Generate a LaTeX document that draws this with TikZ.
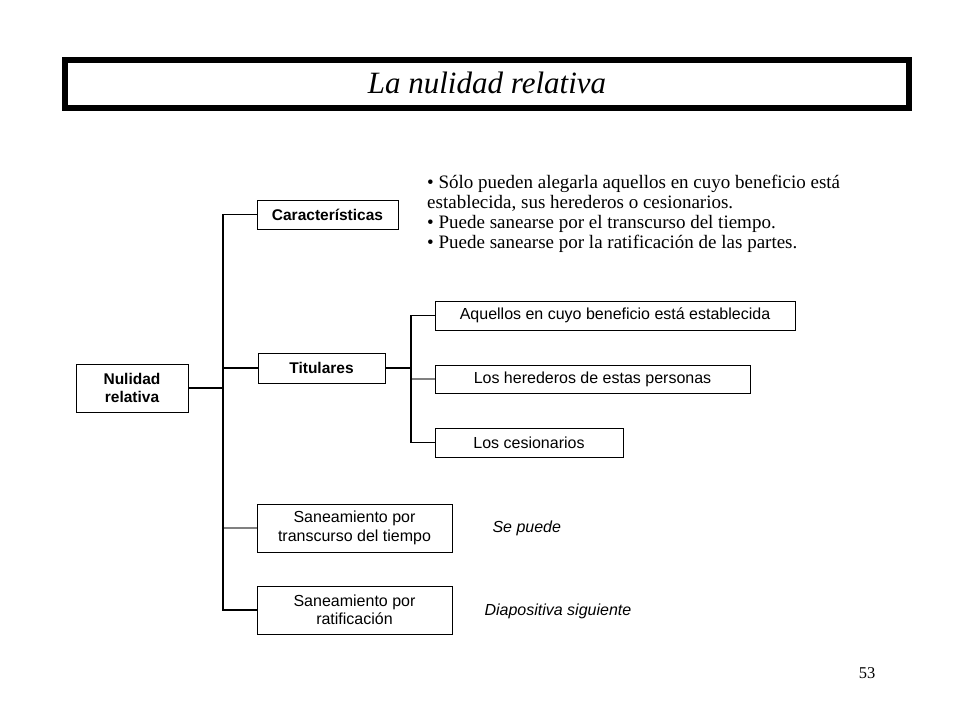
\documentclass[tikz,border=0pt]{standalone}
\usepackage{fontspec}
\setmainfont{Liberation Serif}
\setsansfont{Liberation Sans}
\usepackage{tikz}
\usetikzlibrary{positioning}

\tikzset{
  caja/.style = {draw, line width=0.9pt, rectangle, inner sep=2pt, align=center,
                 font=\sffamily\fontsize{16}{18.5}\selectfont},
  cajab/.style = {caja, font=\sffamily\bfseries\fontsize{15.5}{18.5}\selectfont},
  rama/.style = {line width=1.2pt},
  nota/.style = {font=\sffamily\itshape\fontsize{16}{18}\selectfont}
}

\begin{document}
\begin{tikzpicture}[x=1pt, y=-1pt]
\useasboundingbox (0,0) rectangle (960,720);

% title
\draw[line width=6.5pt] (65,60) rectangle (909,108);
\node[anchor=base] (titulo) at (487,93) {\itshape\fontsize{31}{33}\selectfont La nulidad relativa};

% main boxes
\node[cajab, minimum width=112pt, minimum height=48pt] (nul) at (132,388) {Nulidad\\relativa};
\node[cajab, minimum width=141pt, minimum height=29pt] (car) at (327.5,214.5) {Características};
\node[cajab, minimum width=127pt, minimum height=30pt] (tit) at (321.5,368) {Titulares};
\node[caja, minimum width=195pt, minimum height=48pt] (tiempo) at (354.5,528) {Saneamiento por\\transcurso del tiempo};
\node[caja, minimum width=195pt, minimum height=48pt] (ratif) at (354.5,610) {Saneamiento por\\ratificación};

% titulares
\node[caja, minimum width=360pt, minimum height=29pt] (aque) at (615,315.5) {Aquellos en cuyo beneficio está establecida};
\node[caja, minimum width=315pt, minimum height=28pt] (here) at (592.5,379) {Los herederos de estas personas};
\node[caja, minimum width=188pt, minimum height=29pt] (cesi) at (529,442.5) {Los cesionarios};

\coordinate (bus1) at (223,388);
\coordinate (bus2) at (411,368);

% connectors
\draw[rama] (nul.east) -- (bus1);
\foreach \n/\c in {car/black, tit/black, tiempo/gray, ratif/black}
  \draw[rama, draw=\c] (bus1) |- (\n.west);
\draw[rama] (bus1 |- car.west) -- (bus1 |- ratif.west);

\draw[rama] (tit.east) -- (bus2);
\foreach \n/\c in {aque/black, here/gray, cesi/black}
  \draw[rama, draw=\c] (bus2) |- (\n.west);
\draw[rama] (bus2 |- aque.west) -- (bus2 |- cesi.west);

% notes
\node[anchor=base west, align=left, inner sep=0pt, font=\fontsize{19}{20}\selectfont] (carac) at (427,248)
  {\textbullet\ Sólo pueden alegarla aquellos en cuyo beneficio está\\
   establecida, sus herederos o cesionarios.\\
   \textbullet\ Puede sanearse por el transcurso del tiempo.\\
   \textbullet\ Puede sanearse por la ratificación de las partes.};
\node[nota, anchor=west] (sepuede) at (489,528) {Se puede};
\node[nota, anchor=west] (diapo) at (481,611) {Diapositiva siguiente};

\node[font=\fontsize{16.5}{18}\selectfont] (pag) at (867,673) {53};

\end{tikzpicture}
\end{document}
